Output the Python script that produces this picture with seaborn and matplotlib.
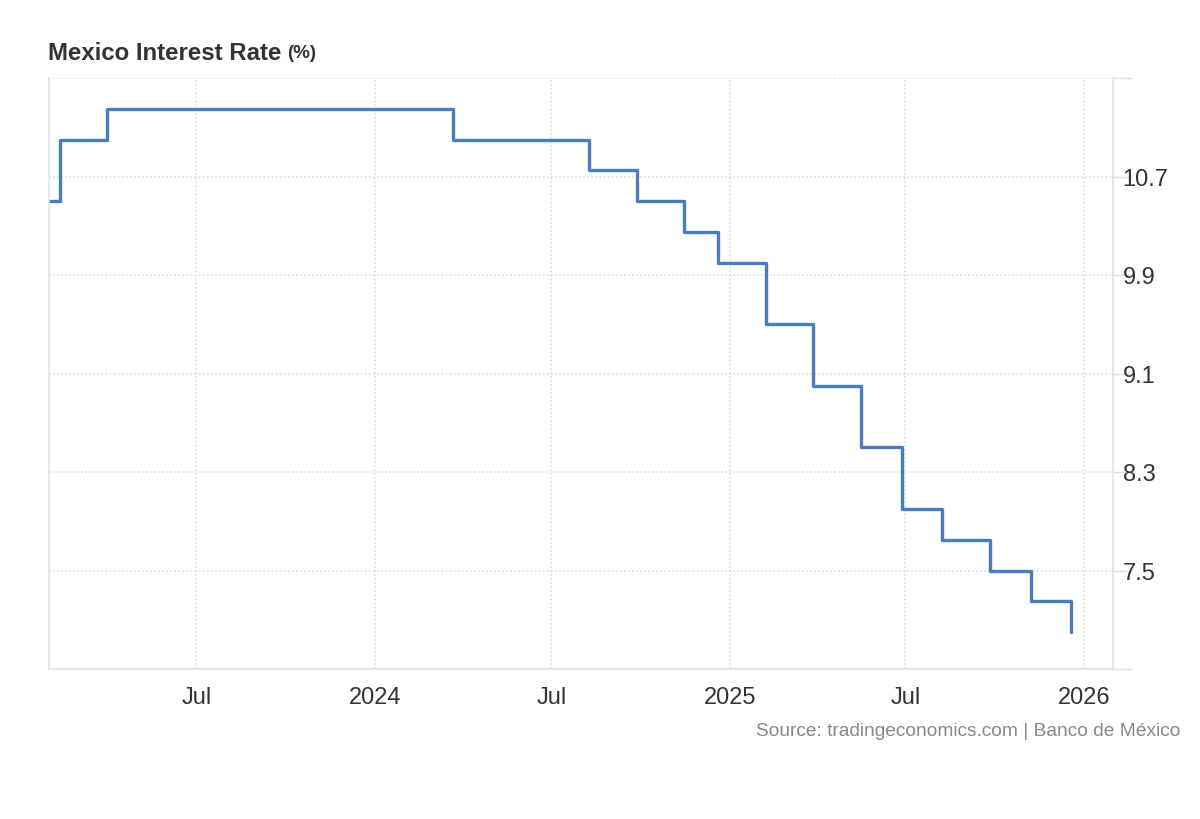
import matplotlib
matplotlib.use("Agg")
import matplotlib.pyplot as plt
import matplotlib.dates as mdates
import matplotlib.ticker as mticker
import seaborn as sns
import pandas as pd
import numpy as np

# Banxico policy rate, dates the rate took effect
dates = ["2023-01-01", "2023-02-10", "2023-03-31", "2024-03-22", "2024-08-09",
         "2024-09-27", "2024-11-15", "2024-12-20", "2025-02-07", "2025-03-28",
         "2025-05-16", "2025-06-27", "2025-08-08", "2025-09-26", "2025-11-07",
         "2025-12-19"]
rates = [10.5, 11.0, 11.25, 11.0, 10.75, 10.5, 10.25, 10.0, 9.5, 9.0,
         8.5, 8.0, 7.75, 7.5, 7.25, 7.0]
y_ticks = [6.7, 7.5, 8.3, 9.1, 9.9, 10.7, 11.5]

df = pd.DataFrame({"date": pd.to_datetime(dates), "rate": rates})

sns.set_style("white")
plt.rcParams["font.family"] = ["Liberation Sans", "DejaVu Sans"]

fig = plt.figure(figsize=(12, 8.2), dpi=100)
ax = fig.add_axes([49 / 1200, 1 - 670 / 820, (1113 - 49) / 1200, (670 - 79) / 820])

sns.lineplot(data=df, x="date", y="rate", ax=ax, color="#4a7ebb",
             linewidth=2.4, drawstyle="steps-post")

ax.set_xlim(pd.Timestamp("2023-01-30"), pd.Timestamp("2026-01-31"))
ax.set_ylim(6.7, 11.5)
ax.set_xlabel("")
ax.set_ylabel("")

# x axis: Jan -> year, Jul -> "Jul"
ax.xaxis.set_major_locator(mdates.MonthLocator(bymonth=[1, 7]))
ax.xaxis.set_major_formatter(mticker.FuncFormatter(
    lambda v, p: str(mdates.num2date(v).year) if mdates.num2date(v).month == 1 else "Jul"))
ax.tick_params(axis="x", length=0, pad=12, labelsize=17, labelcolor="#333333")

# y axis on the right, outer ticks unlabeled
ax.yaxis.tick_right()
ax.set_yticks(y_ticks)
ax.set_yticklabels(["" if t in (y_ticks[0], y_ticks[-1]) else f"{t:.1f}" for t in y_ticks])
ax.tick_params(axis="y", length=14, width=1, color="#e0e0e0", pad=-7,
               labelsize=17, labelcolor="#333333")

ax.grid(True, linestyle=":", color="#dadada", linewidth=1.1)

for side in ["left", "right", "bottom"]:
    ax.spines[side].set_visible(True)
    ax.spines[side].set_color("#e3e3e3")
    ax.spines[side].set_linewidth(1.2)
ax.spines["top"].set_visible(False)

t1 = fig.text(48 / 1200, 1 - 53 / 820, "Mexico Interest Rate", fontsize=17.3,
              fontweight="bold", color="#333333", va="center")
fig.canvas.draw()
bb = t1.get_window_extent(fig.canvas.get_renderer())
fig.text((bb.x1 + 6) / 1200, 1 - 54 / 820, "(%)", fontsize=13.5,
         fontweight="bold", color="#333333", va="center")

fig.text(1180 / 1200, 1 - 732 / 820, "Source: tradingeconomics.com | Banco de México",
         fontsize=13.8, color="#888888", ha="right", va="center")

fig.savefig("out.png", dpi=100)
